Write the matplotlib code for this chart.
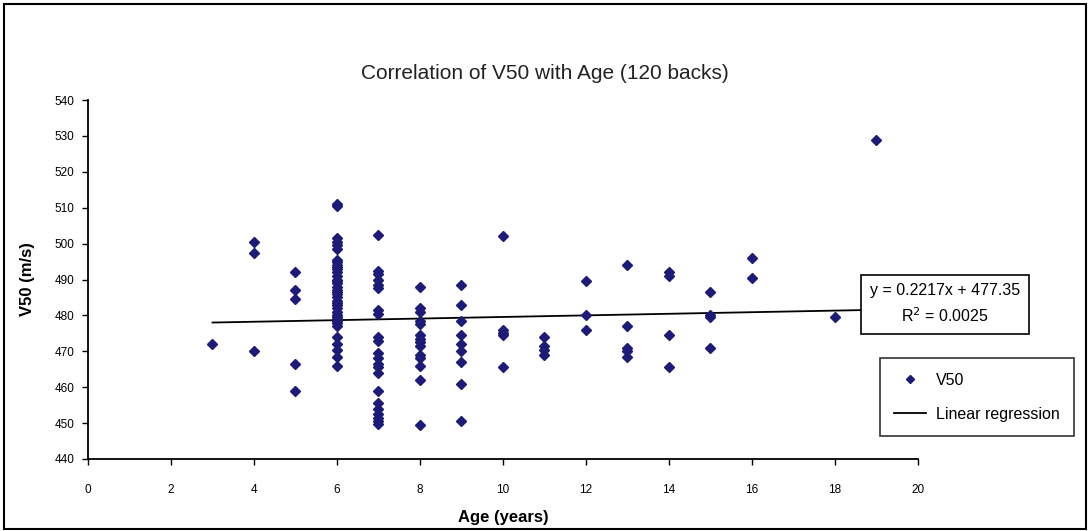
import numpy as np
import matplotlib
matplotlib.use("Agg")
import matplotlib.pyplot as plt
from matplotlib.lines import Line2D
from matplotlib.patches import Rectangle

plt.rcParams['font.family'] = ['Liberation Sans', 'DejaVu Sans']

# V50 values (m/s), grouped by age (years)
ages = [3, 4, 5, 6, 7, 8, 9, 10, 11, 12, 13, 14, 15, 16, 18, 19]
v50_by_age = [
    [472],
    [500.5, 497.5, 470],
    [492, 487, 484.5, 466.5, 459],
    [511, 510.5, 501.5, 500.5, 499.5, 498.5, 495.5, 495, 494, 493.5, 493, 492,
     491, 490, 489.5, 489, 488, 487, 486.5, 486, 485, 484, 483.5, 483, 482, 481,
     480, 479.5, 479, 478.5, 478, 477, 474, 472, 470.5, 468.5, 466],
    [502.5, 492.5, 491.5, 490, 488.5, 487.5, 481.5, 480.5, 474, 473, 469.5, 468,
     466.5, 465.5, 464, 459, 455.5, 454, 452.5, 451.5, 450.5, 449.8],
    [488, 482, 481, 478.5, 477.5, 474.5, 473.5, 472.5, 471.5, 469, 468, 466, 462, 449.5],
    [488.5, 483, 478.5, 474.5, 472, 470, 467, 461, 450.5],
    [502, 476, 475, 474.5, 465.5],
    [474, 471.5, 470.5, 469],
    [489.5, 480, 476],
    [494, 477, 471, 470, 468.5],
    [492, 491, 474.5, 465.5],
    [486.5, 480, 479.5, 471],
    [496, 490.5],
    [479.5],
    [529],
]

# trendline as printed on the chart
slope = 0.2217
intercept = 477.35
r2 = 0.0025

x = np.concatenate([[a] * len(v) for a, v in zip(ages, v50_by_age)])
y = np.concatenate(v50_by_age)

fig = plt.figure(figsize=(10.9, 5.31), dpi=100)
ax = fig.add_axes([0.0807, 0.1356, 0.7615, 0.676])

navy = '#1c1c78'
ax.plot(x, y, 'D', color=navy, markersize=5, linestyle='none', zorder=3)

xl = np.array([min(ages), max(ages)])
ax.plot(xl, slope * xl + intercept, color='black', lw=1.3, zorder=2)

ax.set_xlim(0, 20)
ax.set_ylim(440, 540)
ax.set_xticks(range(0, 21, 2))
ax.set_yticks(range(440, 541, 10))
ax.tick_params(labelsize=8.5, direction='out', length=4, width=1, colors='black')
for s in ['top', 'right']:
    ax.spines[s].set_visible(False)
for s in ['left', 'bottom']:
    ax.spines[s].set_linewidth(1.3)
ax.tick_params(axis='x', pad=14)
ax.tick_params(axis='y', pad=6)

ax.set_xlabel('Age (years)', fontsize=12, fontweight='bold', labelpad=10)
ax.set_ylabel('V50 (m/s)', fontsize=12, fontweight='bold', labelpad=14)
fig.text(0.5, 0.862, 'Correlation of V50 with Age (120 backs)', ha='center',
         va='center', fontsize=15, color='#222222')

# equation label box
fig.text(0.867, 0.427, 'y = 0.2217x + 477.35\nR$^2$ = 0.0025', ha='center', va='center',
         fontsize=11.5, linespacing=1.5,
         bbox=dict(boxstyle='square,pad=0.55', fc='white', ec='black', lw=1.2))

handles = [Line2D([], [], marker='D', color=navy, ls='none', markersize=4),
           Line2D([], [], color='black', lw=1.3)]
leg = fig.legend(handles, ['V50', 'Linear regression'], loc='upper left',
                 bbox_to_anchor=(0.8, 0.34), frameon=True, fancybox=False,
                 fontsize=11.5, handlelength=2, labelspacing=1.2, borderpad=0.9,
                 handletextpad=0.6)
leg.get_frame().set_edgecolor('black')
leg.get_frame().set_linewidth(1.2)

# outer chart frame
fig.patches.append(Rectangle((0.004, 0.004), 0.992, 0.988, transform=fig.transFigure,
                             fill=False, ec='black', lw=1.5))

fig.savefig('out.png', dpi=100)
